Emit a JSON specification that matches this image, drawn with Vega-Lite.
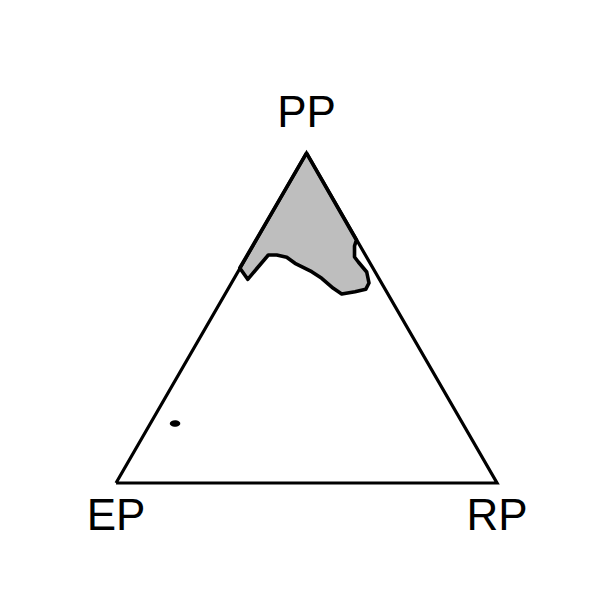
{
  "$schema": "https://vega.github.io/schema/vega-lite/v6.json",
  "width": 600,
  "height": 600,
  "autosize": {"type": "fit", "contains": "padding"},
  "padding": 0,
  "background": "white",
  "config": {"view": {"stroke": null}},
  "datasets": {
    "region": [
      {"i": 0, "x": 0.5, "y": 0.866},
      {"i": 1, "x": 0.631, "y": 0.6378},
      {"i": 2, "x": 0.626, "y": 0.622},
      {"i": 3, "x": 0.626, "y": 0.5932},
      {"i": 4, "x": 0.636, "y": 0.5801},
      {"i": 5, "x": 0.658, "y": 0.5538},
      {"i": 6, "x": 0.664, "y": 0.5249},
      {"i": 7, "x": 0.6554, "y": 0.5084},
      {"i": 8, "x": 0.6273, "y": 0.5021},
      {"i": 9, "x": 0.5924, "y": 0.4961},
      {"i": 10, "x": 0.5703, "y": 0.511},
      {"i": 11, "x": 0.5399, "y": 0.5373},
      {"i": 12, "x": 0.5136, "y": 0.5546},
      {"i": 13, "x": 0.4698, "y": 0.5766},
      {"i": 14, "x": 0.448, "y": 0.5924},
      {"i": 15, "x": 0.4218, "y": 0.5984},
      {"i": 16, "x": 0.3997, "y": 0.5984},
      {"i": 17, "x": 0.3457, "y": 0.5346},
      {"i": 18, "x": 0.3249, "y": 0.5643},
      {"i": 19, "x": 0.5, "y": 0.866}
    ],
    "triangle": [
      {"i": 0, "x": 0, "y": 0},
      {"i": 1, "x": 1, "y": 0},
      {"i": 2, "x": 0.5, "y": 0.866},
      {"i": 3, "x": 0, "y": 0}
    ],
    "dot": [{"x": 0.1549, "y": 0.1562}],
    "labels": [
      {"label": "PP", "x": 0.5, "y": 0.866, "pos": "top"},
      {"label": "EP", "x": 0, "y": 0, "pos": "bottom"},
      {"label": "RP", "x": 1, "y": 0, "pos": "bottom"}
    ]
  },
  "encoding": {
    "x": {"field": "x", "type": "quantitative", "scale": {"domain": [-0.3045, 1.2703], "nice": false, "zero": false}, "axis": null},
    "y": {"field": "y", "type": "quantitative", "scale": {"domain": [-0.3071, 1.2677], "nice": false, "zero": false}, "axis": null}
  },
  "layer": [
    {
      "data": {"name": "region"},
      "mark": {"type": "line", "fill": "#bebebe", "stroke": "black", "strokeWidth": 3.6, "strokeJoin": "round", "clip": false},
      "encoding": {"order": {"field": "i", "type": "quantitative"}}
    },
    {
      "data": {"name": "triangle"},
      "mark": {"type": "line", "stroke": "black", "strokeWidth": 3.2, "strokeJoin": "miter"},
      "encoding": {"order": {"field": "i", "type": "quantitative"}}
    },
    {
      "data": {"name": "dot"},
      "mark": {"type": "point", "shape": "M-1,0A1,0.62,0,1,0,1,0A1,0.62,0,1,0,-1,0Z", "size": 110, "filled": true, "fill": "black", "stroke": null, "opacity": 1},
      "encoding": {}
    },
    {
      "data": {"name": "labels"},
      "transform": [{"filter": "datum.pos === 'top'"}],
      "mark": {"type": "text", "font": "Liberation Sans", "fontSize": 44, "baseline": "alphabetic", "align": "center", "dy": -26, "color": "black"},
      "encoding": {"text": {"field": "label"}}
    },
    {
      "data": {"name": "labels"},
      "transform": [{"filter": "datum.pos === 'bottom'"}],
      "mark": {"type": "text", "font": "Liberation Sans", "fontSize": 44, "baseline": "alphabetic", "align": "center", "dy": 47, "color": "black"},
      "encoding": {"text": {"field": "label"}}
    }
  ]
}
